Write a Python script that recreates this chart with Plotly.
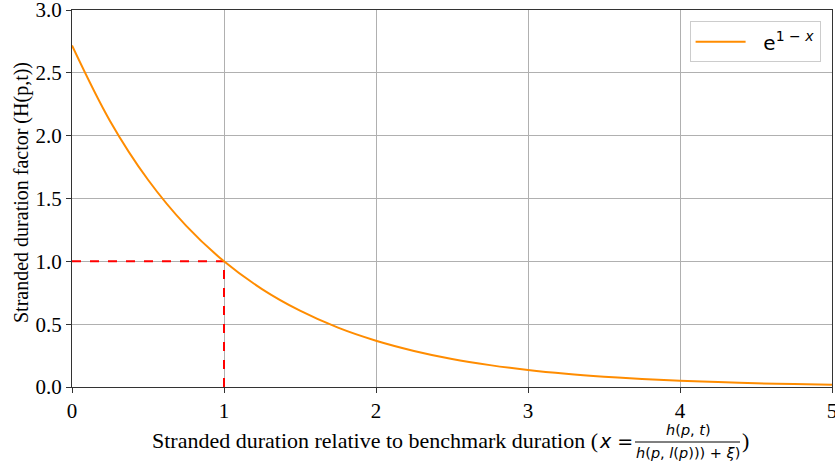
import plotly.graph_objects as go

# Curve values (x, H)
x_vals = [0.0, 0.25, 0.5, 0.75, 1.0, 1.25, 1.5, 1.75, 2.0, 2.25, 2.5,
          2.75, 3.0, 3.25, 3.5, 3.75, 4.0, 4.25, 4.5, 4.75, 5.0]
y_vals = [2.718, 2.117, 1.649, 1.284, 1.0, 0.779, 0.607, 0.472, 0.368, 0.287, 0.223,
          0.174, 0.135, 0.105, 0.082, 0.064, 0.050, 0.039, 0.030, 0.023, 0.018]

# Red dashed guide lines
h_guide_x = [0, 1]
h_guide_y = [1, 1]
v_guide_x = [1, 1]
v_guide_y = [0, 1]

x_ticks = [0, 1, 2, 3, 4, 5]
y_ticks = [0.0, 0.5, 1.0, 1.5, 2.0, 2.5, 3.0]
y_tick_labels = ["0.0", "0.5", "1.0", "1.5", "2.0", "2.5", "3.0"]

W, H = 835, 466
ML, MR, MT, MB = 72, 3, 10, 79
SERIF = "Liberation Serif"
SANS = "DejaVu Sans"

fig = go.Figure()
fig.add_trace(go.Scatter(x=h_guide_x, y=h_guide_y, mode="lines",
                         line=dict(color="red", width=2, dash="dash"),
                         showlegend=False, hoverinfo="skip"))
fig.add_trace(go.Scatter(x=v_guide_x, y=v_guide_y, mode="lines",
                         line=dict(color="red", width=2, dash="dash"),
                         showlegend=False, hoverinfo="skip"))
fig.add_trace(go.Scatter(x=x_vals, y=y_vals, mode="lines", line_shape="spline",
                         line=dict(color="#FF8C00", width=2),
                         name="  e<sup>1 − <i>x</i></sup>"))

axis_common = dict(
    showgrid=True, gridcolor="#b0b0b0", gridwidth=1,
    showline=True, linecolor="#333333", linewidth=1.3, mirror=True,
    ticks="outside", ticklen=5, tickcolor="#333333",
    tickfont=dict(family=SERIF, size=21, color="black"),
    zeroline=False, automargin=False, ticklabeloverflow="allow",
)

fig.update_layout(
    width=W, height=H,
    margin=dict(l=ML, r=MR, t=MT, b=MB, autoexpand=False),
    plot_bgcolor="white", paper_bgcolor="white",
    xaxis=dict(range=[0, 5], tickvals=x_ticks, **axis_common),
    yaxis=dict(range=[0, 3], tickvals=y_ticks, ticktext=y_tick_labels, **axis_common),
    legend=dict(x=0.985, y=0.97, xanchor="right", yanchor="top",
                bgcolor="white", bordercolor="#cccccc", borderwidth=1,
                itemwidth=50,
                font=dict(family=SANS, size=20, color="black")),
)

def paper_y(pix):
    return (H - MB - pix) / (H - MT - MB)
def paper_x(pix):
    return (pix - ML) / (W - ML - MR)

# Y-axis title
fig.add_annotation(x=paper_x(21), y=paper_y(193), xref="paper", yref="paper",
                   text="Stranded duration factor (H(p,t))", textangle=-90,
                   showarrow=False, xanchor="center", yanchor="middle",
                   font=dict(family=SERIF, size=20, color="black"))

# X-axis title built from annotations (text + stacked fraction)
fig.add_annotation(x=paper_x(600), y=paper_y(440), xref="paper", yref="paper",
                   text="Stranded duration relative to benchmark duration (",
                   showarrow=False, xanchor="right", yanchor="middle",
                   font=dict(family=SERIF, size=22, color="black"))
fig.add_annotation(x=paper_x(597), y=paper_y(441), xref="paper", yref="paper",
                   text="<i>x</i> =",
                   showarrow=False, xanchor="left", yanchor="middle",
                   font=dict(family=SANS, size=19, color="black"))
fig.add_annotation(x=paper_x(688), y=paper_y(430), xref="paper", yref="paper",
                   text="<i>h</i>(<i>p</i>, <i>t</i>)",
                   showarrow=False, xanchor="center", yanchor="middle",
                   font=dict(family=SANS, size=14.5, color="black"))
fig.add_annotation(x=paper_x(688), y=paper_y(453), xref="paper", yref="paper",
                   text="<i>h</i>(<i>p</i>, <i>l</i>(<i>p</i>))) + <i>ξ</i>)",
                   showarrow=False, xanchor="center", yanchor="middle",
                   font=dict(family=SANS, size=14.5, color="black"))
fig.add_shape(type="line", xref="paper", yref="paper",
              x0=paper_x(635), x1=paper_x(740), y0=paper_y(442), y1=paper_y(442),
              line=dict(color="black", width=1))
fig.add_annotation(x=paper_x(740), y=paper_y(440), xref="paper", yref="paper",
                   text=")",
                   showarrow=False, xanchor="left", yanchor="middle",
                   font=dict(family=SERIF, size=22, color="black"))

fig.write_html("out.html", config={"displayModeBar": False},
               post_script="document.body.style.margin='0';document.body.style.overflow='hidden';")
